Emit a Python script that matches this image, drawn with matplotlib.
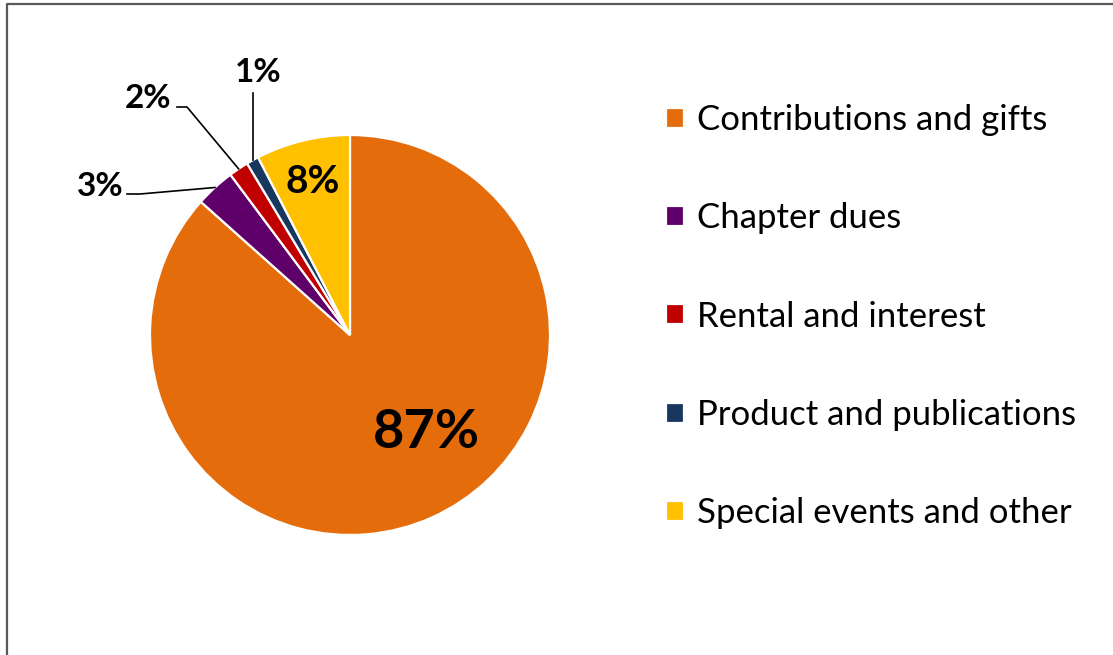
import matplotlib.pyplot as plt
import numpy as np
from matplotlib.lines import Line2D

plt.rcParams['font.family'] = ['Lato', 'DejaVu Sans']

labels = ['Contributions and gifts', 'Chapter dues', 'Rental and interest',
          'Product and publications', 'Special events and other']
values = [86.6, 3.2, 1.6, 1.0, 7.6]
pct_text = ['87%', '3%', '2%', '1%', '8%']
colors = ['#E46C0A', '#5F006A', '#C00000', '#17375E', '#FFC000']

W, H = 1113, 655
fig = plt.figure(figsize=(W / 100, H / 100), dpi=100)

# pie centre (350,335) px, radius 200 px
ax = fig.add_axes([150 / W, 120 / H, 400 / W, 400 / H])
wedges, _ = ax.pie(values, colors=colors, startangle=90, counterclock=False,
                   radius=1, wedgeprops=dict(edgecolor='white', linewidth=1.6))
ax.set_xlim(-1, 1)
ax.set_ylim(-1, 1)
ax.set_aspect('equal')
ax.axis('off')

def mid(w):
    return np.deg2rad((w.theta1 + w.theta2) / 2)

# inside labels
ax.text(0.38, -0.49, pct_text[0], ha='center', va='center', fontsize=39, fontweight='bold')
a = mid(wedges[4])
ax.text(0.79 * np.cos(a), 0.79 * np.sin(a), pct_text[4], ha='center', va='center',
        fontsize=28, fontweight='bold')

# outside labels with leader lines
lc = dict(color='black', lw=1.2, clip_on=False)
a = mid(wedges[1])
ax.plot([-1.115, -1.05, np.cos(a)], [0.705, 0.705, np.sin(a)], **lc)
ax.text(-1.25, 0.745, pct_text[1], ha='center', va='center', fontsize=24, fontweight='bold')

a = mid(wedges[2])
ax.plot([-0.865, -0.815, np.cos(a)], [1.14, 1.14, np.sin(a)], **lc)
ax.text(-1.01, 1.185, pct_text[2], ha='center', va='center', fontsize=24, fontweight='bold')

a = mid(wedges[3])
ax.plot([np.cos(a), np.cos(a)], [1.21, np.sin(a)], **lc)
ax.text(-0.46, 1.315, pct_text[3], ha='center', va='center', fontsize=24, fontweight='bold')

# legend
fs = 25
em = fs * 100 / 72
leg = fig.legend(wedges, labels, loc='upper left', bbox_to_anchor=(666 / W, 1 - 104 / H),
                 frameon=False, fontsize=fs, handlelength=18 / em, handleheight=18 / em,
                 handletextpad=13 / em, labelspacing=(98.5 - 0.926 * em) / em, borderpad=0,
                 borderaxespad=0)

# chart border (left and top only visible)
fig.add_artist(Line2D([6.5 / W, 6.5 / W, 1], [0, 1 - 3.5 / H, 1 - 3.5 / H],
                      transform=fig.transFigure, color='#595959', lw=1.6))

fig.savefig('out.png', dpi=100, facecolor='white')
